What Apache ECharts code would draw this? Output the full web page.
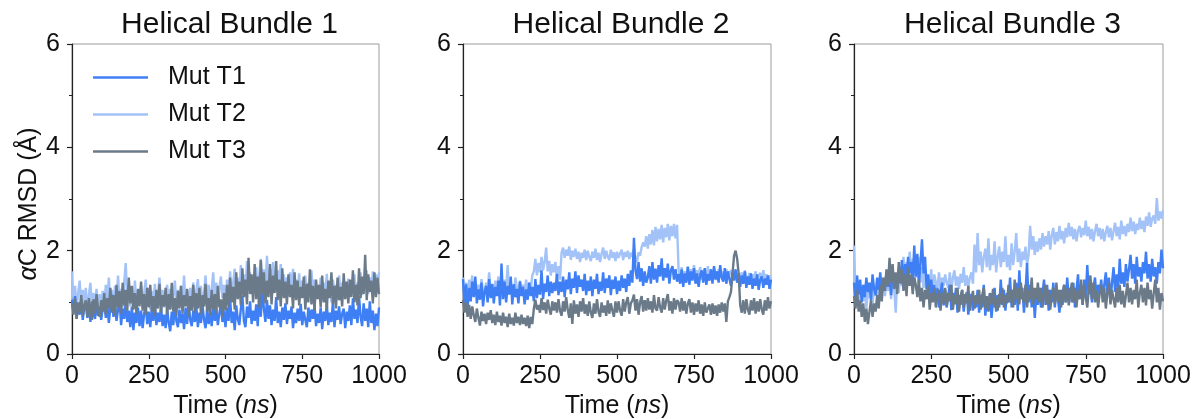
<!DOCTYPE html>
<html>
<head>
<meta charset="utf-8">
<script src="https://cdn.jsdelivr.net/npm/echarts@6/dist/echarts.min.js"></script>
<style>html,body{margin:0;padding:0;background:#fff}#c{width:1195px;height:419px}</style>
</head>
<body>
<div id="c"></div>
<script>
const time = [0,5,10,15,20,25,30,35,40,45,50,55,60,65,70,75,80,85,90,95,
100,105,110,115,120,125,130,135,140,145,150,155,160,165,170,175,180,185,190,195,
200,205,210,215,220,225,230,235,240,245,250,255,260,265,270,275,280,285,290,295,
300,305,310,315,320,325,330,335,340,345,350,355,360,365,370,375,380,385,390,395,
400,405,410,415,420,425,430,435,440,445,450,455,460,465,470,475,480,485,490,495,
500,505,510,515,520,525,530,535,540,545,550,555,560,565,570,575,580,585,590,595,
600,605,610,615,620,625,630,635,640,645,650,655,660,665,670,675,680,685,690,695,
700,705,710,715,720,725,730,735,740,745,750,755,760,765,770,775,780,785,790,795,
800,805,810,815,820,825,830,835,840,845,850,855,860,865,870,875,880,885,890,895,
900,905,910,915,920,925,930,935,940,945,950,955,960,965,970,975,980,985,990,995,1000];

const panelTitles = ['Helical Bundle 1','Helical Bundle 2','Helical Bundle 3'];
const seriesNames = ['Mut T1','Mut T2','Mut T3'];
const xTicks = [0,250,500,750,1000];
const yTicks = [0,2,4,6];

// Helical Bundle 1
const hb1_t1 = [1.05,0.80,1.12,0.68,0.98,0.76,1.05,0.66,0.90,1.00,0.70,0.95,0.62,1.02,0.78,0.68,0.98,0.74,0.92,0.66,
0.88,1.08,0.70,0.95,0.60,0.90,1.15,0.72,0.98,0.64,0.86,1.04,0.56,0.88,0.68,1.00,0.62,0.84,0.52,0.92,
0.46,0.80,0.60,0.90,0.54,0.84,0.50,0.78,0.95,0.58,0.82,0.52,0.88,0.64,0.98,0.56,0.80,0.62,0.92,0.54,
0.76,0.50,0.88,0.60,0.44,0.82,0.56,0.94,0.64,0.52,0.86,0.60,0.78,0.48,0.90,0.58,1.00,0.66,0.54,0.84,
0.62,0.92,0.52,0.80,0.60,0.96,0.66,0.50,0.86,0.58,0.82,0.54,0.94,0.64,0.88,0.56,0.78,0.98,0.62,0.84,
0.52,0.90,0.64,1.08,0.60,0.82,0.46,0.94,0.68,0.56,0.88,1.12,0.64,0.52,0.92,0.70,1.02,0.58,0.84,0.64,
0.96,0.54,1.18,0.72,1.28,0.88,0.62,1.05,0.68,0.94,0.56,0.86,0.64,1.10,0.60,0.82,0.52,0.90,0.66,0.98,
0.58,0.84,0.68,0.92,0.50,0.80,0.60,0.88,0.64,0.97,0.56,0.82,0.66,0.52,0.90,0.62,0.86,0.68,0.94,0.54,
0.78,0.60,0.90,0.48,0.82,0.64,0.96,0.56,0.80,0.62,1.02,0.52,0.84,0.66,0.92,0.58,0.78,0.88,0.50,0.82,
0.64,0.94,0.56,1.08,0.68,0.86,0.60,1.12,0.72,0.54,0.98,0.64,0.88,0.52,1.02,0.60,0.84,0.46,0.78,0.54,0.90];
const hb1_t2 = [1.60,1.00,1.32,0.86,1.18,1.42,0.90,1.24,0.96,1.28,0.84,1.14,1.38,0.88,1.18,0.98,1.26,0.86,1.16,0.96,
1.22,0.88,1.34,1.00,1.48,0.94,1.24,0.86,1.32,1.04,1.52,0.96,1.26,0.90,1.38,1.76,1.06,1.34,0.92,1.22,
1.00,1.42,0.88,1.24,0.98,1.34,0.90,1.18,1.44,0.96,1.28,0.86,1.22,1.00,1.36,0.92,1.16,1.48,0.96,1.24,
0.90,1.18,1.34,0.96,1.26,0.88,1.14,1.42,0.98,1.24,0.90,1.32,1.04,1.52,0.96,1.22,0.88,1.28,1.00,1.38,
0.96,1.24,1.45,1.00,1.32,0.92,1.18,1.52,1.04,1.34,0.98,1.26,1.58,1.06,1.38,0.96,1.28,1.50,1.08,1.34,
1.00,1.44,1.16,1.60,1.10,1.38,1.65,1.18,1.48,1.14,1.72,1.26,1.54,1.20,1.80,1.30,1.58,1.16,1.48,1.26,
1.68,1.20,1.54,1.84,1.30,1.64,1.24,1.90,1.38,1.66,1.26,1.78,1.40,1.20,1.62,1.34,1.74,1.18,1.54,1.28,
1.48,1.16,1.58,1.26,1.65,1.14,1.44,1.24,1.56,1.10,1.42,1.20,1.52,1.08,1.38,1.18,1.62,1.14,1.44,1.06,
1.34,1.16,1.48,1.04,1.38,1.20,1.55,1.10,1.36,1.00,1.44,1.18,1.34,1.08,1.52,1.16,1.38,1.06,1.32,1.14,
1.46,1.10,1.34,1.18,1.54,1.08,1.38,1.20,1.58,1.14,1.44,1.24,1.62,1.16,1.48,1.26,1.60,1.20,1.54,1.30,1.58];
const hb1_t3 = [0.98,0.76,1.08,0.68,1.00,0.80,1.14,0.74,0.95,1.04,0.72,1.08,0.84,0.66,1.06,0.78,1.16,0.86,0.72,1.04,
0.82,1.18,0.76,1.08,0.88,1.28,0.80,1.14,0.74,1.34,0.90,1.22,0.78,1.38,0.94,1.24,0.84,1.48,0.98,1.32,
0.86,1.18,0.78,1.26,0.92,1.40,0.84,1.16,0.76,1.28,0.90,1.34,0.82,1.12,0.74,1.24,0.88,1.36,0.80,1.14,
0.92,1.28,0.76,1.16,0.86,1.38,0.82,1.08,0.74,1.22,0.88,1.32,0.78,1.14,0.92,1.26,0.72,1.12,0.84,1.34,
0.80,1.18,0.88,1.28,0.76,1.14,0.92,1.36,0.82,1.08,0.74,1.24,0.86,1.16,0.78,1.32,0.90,1.06,0.72,1.18,
0.84,1.34,0.90,1.48,1.00,1.30,0.86,1.58,1.06,1.40,0.94,1.66,1.10,1.44,0.96,1.86,1.16,1.54,1.00,1.74,
1.06,1.50,0.90,1.82,1.16,1.58,0.98,1.42,1.10,1.74,0.96,1.52,1.18,1.80,1.04,1.44,0.92,1.66,1.08,1.40,
0.96,1.54,1.10,1.34,0.88,1.58,1.04,1.42,0.94,1.30,1.08,1.50,0.86,1.36,1.00,1.64,0.96,1.32,0.84,1.44,
1.06,1.34,0.90,1.52,1.00,1.26,0.86,1.42,1.08,1.58,0.96,1.32,0.88,1.48,1.04,1.30,0.92,1.56,1.06,1.40,
0.98,1.44,1.10,1.62,1.00,1.34,0.94,1.66,1.08,1.50,1.16,1.92,1.04,1.54,1.20,1.42,0.98,1.58,1.10,1.48,1.16];

// Helical Bundle 2
const hb2_t1 = [1.45,0.95,1.35,0.90,1.28,1.02,1.40,1.10,1.50,0.98,1.25,1.05,1.38,0.92,1.20,1.32,1.00,1.45,1.08,1.35,
0.98,1.30,1.12,1.42,0.94,1.75,1.06,1.40,1.00,1.32,1.15,1.50,0.96,1.35,1.10,1.26,0.98,1.40,1.12,1.30,
0.96,1.25,1.05,1.38,1.12,1.30,1.02,1.45,1.08,1.34,1.15,1.62,1.06,1.36,1.20,1.52,1.12,1.40,1.18,1.38,
1.22,1.55,1.14,1.40,1.20,1.50,1.10,1.44,1.25,1.58,1.16,1.46,1.28,1.60,1.18,1.52,1.30,1.44,1.22,1.55,
1.14,1.42,1.22,1.50,1.12,1.44,1.26,1.55,1.16,1.40,1.22,1.58,1.18,1.46,1.28,1.52,1.14,1.44,1.26,1.50,
1.16,1.42,1.22,1.52,1.28,1.46,1.20,1.55,1.32,1.62,1.38,2.25,1.62,1.45,1.78,1.40,1.66,1.32,1.60,1.38,
1.48,1.70,1.36,1.78,1.44,1.65,1.38,1.72,1.50,1.85,1.42,1.66,1.48,1.75,1.36,1.62,1.70,1.44,1.64,1.40,
1.55,1.36,1.64,1.30,1.56,1.38,1.68,1.34,1.60,1.42,1.66,1.36,1.56,1.30,1.52,1.62,1.38,1.66,1.34,1.55,
1.42,1.64,1.36,1.70,1.44,1.60,1.38,1.72,1.48,1.40,1.66,1.36,1.60,1.45,1.32,1.58,1.42,1.64,1.38,1.55,
1.30,1.52,1.36,1.60,1.28,1.50,1.34,1.56,1.26,1.46,1.32,1.54,1.24,1.44,1.50,1.28,1.46,1.34,1.52,1.26,1.44];
const hb2_t2 = [1.48,1.18,1.38,1.08,1.44,1.22,1.52,1.12,1.40,1.20,1.34,1.10,1.45,1.22,1.16,1.38,1.25,1.58,1.18,1.36,
1.12,1.42,1.22,1.50,1.15,1.35,1.20,1.44,1.25,1.72,1.18,1.40,1.22,1.12,1.48,1.28,1.20,1.42,1.15,1.34,
1.22,1.44,1.18,1.38,1.25,1.52,1.60,1.84,1.52,1.76,1.58,1.88,1.62,1.78,2.06,1.60,1.80,1.52,1.74,1.58,
1.78,1.48,1.70,1.44,1.96,2.06,1.86,2.02,1.90,2.08,1.82,2.00,1.88,2.04,1.84,1.98,1.78,1.96,1.86,2.02,
1.82,2.00,1.88,1.80,1.98,1.86,2.04,1.82,1.96,1.78,1.94,2.06,1.84,2.00,1.88,1.82,2.02,1.86,1.97,1.80,
1.98,1.86,1.94,2.02,1.82,1.97,1.88,2.00,1.84,1.96,1.88,2.04,1.86,1.78,1.97,1.90,2.07,2.16,2.08,2.28,
2.04,2.32,2.12,2.40,2.10,2.46,2.18,2.42,2.22,2.50,2.16,2.44,2.26,2.52,2.20,2.48,2.28,2.52,2.24,2.50,
1.62,1.52,1.68,1.46,1.60,1.48,1.70,1.44,1.64,1.50,1.72,1.46,1.62,1.52,1.68,1.44,1.60,1.64,1.48,1.70,
1.50,1.62,1.46,1.67,1.54,1.43,1.64,1.48,1.60,1.42,1.58,1.64,1.46,1.56,1.62,1.44,1.54,1.60,1.44,1.57,
1.46,1.58,1.40,1.62,1.48,1.43,1.57,1.38,1.54,1.44,1.60,1.40,1.52,1.57,1.42,1.62,1.46,1.54,1.43,1.52,1.40];
const hb2_t3 = [1.05,0.80,1.00,0.72,0.95,0.68,0.92,0.75,0.62,0.88,0.70,0.55,0.82,0.64,0.78,0.58,0.80,0.66,0.85,0.60,
0.76,0.56,0.82,0.62,0.74,0.55,0.80,0.60,0.72,0.52,0.78,0.58,0.70,0.55,0.80,0.60,0.72,0.56,0.76,0.58,
0.70,0.54,0.74,0.50,0.72,0.58,0.88,1.05,0.86,0.95,0.80,1.08,0.85,1.00,0.78,1.05,0.88,0.76,1.02,0.84,
1.00,0.80,1.06,0.84,0.74,1.02,0.82,1.10,0.86,0.70,0.98,0.58,1.04,0.78,0.96,0.72,1.02,0.82,1.08,0.78,
0.96,0.74,1.02,0.80,0.70,0.98,0.78,1.06,0.82,0.72,1.00,0.80,0.94,0.74,1.04,0.78,0.98,0.84,0.72,1.02,
0.80,1.02,0.84,0.74,1.06,0.82,1.00,1.10,0.78,0.98,1.04,1.15,0.84,1.06,0.76,1.00,1.12,0.82,1.04,0.84,
1.08,0.86,1.02,0.80,1.14,0.88,0.84,1.10,0.90,0.80,1.08,0.86,1.04,1.16,0.84,1.02,0.78,1.08,0.86,1.04,
1.00,0.82,1.08,0.84,1.02,0.78,0.98,1.06,0.80,1.00,0.76,0.98,0.82,1.04,0.78,0.96,0.74,1.00,0.80,0.78,
0.96,0.76,0.98,0.78,0.94,0.74,0.96,0.80,1.00,0.82,0.98,0.62,1.02,1.10,1.20,1.55,1.90,2.00,1.85,1.55,
0.95,0.80,1.04,0.78,1.06,0.86,0.76,1.04,0.84,1.08,0.78,1.02,0.82,1.06,0.86,0.76,1.04,0.84,1.10,0.88,1.02];

// Helical Bundle 3
const hb3_t1 = [1.38,1.05,1.52,1.15,1.44,1.00,1.34,1.10,1.48,1.20,1.38,1.04,1.54,1.26,1.14,1.48,1.24,1.58,1.18,1.44,
1.26,1.58,1.30,1.50,1.14,1.64,1.36,1.54,1.26,1.68,1.40,1.82,1.36,1.74,1.46,1.88,1.56,1.78,1.40,2.10,
1.50,1.94,1.36,1.74,2.22,1.56,1.88,1.26,1.54,1.16,1.44,1.06,1.34,1.00,1.28,0.90,1.18,1.38,0.94,1.24,
0.90,1.14,1.34,0.85,1.18,1.00,1.28,0.80,1.14,0.95,1.24,0.82,1.08,1.20,0.76,1.04,1.16,0.84,1.10,0.90,
1.24,0.80,1.14,0.90,1.34,0.74,1.08,0.84,1.18,0.70,1.04,1.28,0.82,1.14,0.90,1.44,0.95,1.24,0.84,1.18,
1.00,1.48,0.90,1.24,0.95,1.38,0.84,1.62,1.06,1.28,0.80,1.18,1.76,1.00,1.34,0.90,1.24,0.70,1.14,0.95,
1.28,0.90,1.18,1.44,0.95,1.34,0.84,1.24,1.00,1.38,0.90,1.28,1.06,0.80,1.24,0.95,1.34,1.00,1.48,1.10,
1.28,1.00,1.38,0.90,1.24,1.54,1.06,1.34,0.95,1.44,1.10,1.72,1.16,1.38,1.00,1.28,1.48,1.06,1.34,1.16,
1.44,1.10,1.34,1.58,1.16,1.48,1.00,1.38,1.68,1.20,1.54,1.26,1.84,1.36,1.58,1.30,1.74,1.40,1.64,1.92,
1.46,1.74,1.36,1.88,1.50,1.68,1.40,1.78,1.56,1.98,1.46,1.74,1.40,1.84,1.50,1.68,1.36,1.78,1.56,2.02,1.66];
const hb3_t2 = [2.10,1.18,0.98,1.32,0.92,1.18,1.02,1.28,0.88,1.22,1.08,1.38,0.98,1.28,1.12,1.42,1.02,1.32,1.18,1.48,
1.12,1.38,1.22,1.52,1.06,1.42,1.28,0.80,1.48,1.18,1.58,1.32,1.88,1.48,1.78,1.38,1.98,1.58,1.84,1.42,
1.74,1.48,1.88,1.38,1.68,1.28,1.58,1.22,1.48,1.32,1.64,1.18,1.54,1.38,1.28,1.58,1.22,1.48,1.32,1.54,
1.38,1.28,1.58,1.22,1.48,1.62,1.32,1.50,1.26,1.55,1.38,1.68,1.32,1.52,1.28,1.48,1.58,1.36,2.12,1.58,
2.34,1.72,1.98,1.58,1.88,2.04,1.68,2.24,1.62,1.92,1.72,2.18,1.58,1.88,2.08,1.68,1.98,1.78,2.28,1.68,
1.92,1.62,2.14,1.72,1.98,2.34,1.78,2.04,1.68,1.98,1.82,2.08,1.72,1.92,2.48,2.02,2.28,1.92,2.18,1.98,
2.24,2.02,2.34,2.08,2.28,2.12,2.38,2.02,2.30,2.44,2.12,2.36,2.18,2.48,2.22,2.38,2.14,2.44,2.26,2.54,
2.28,2.46,2.22,2.42,2.18,2.38,2.48,2.26,2.44,2.30,2.58,2.28,2.46,2.22,2.42,2.18,2.38,2.52,2.28,2.44,
2.22,2.42,2.18,2.36,2.48,2.26,2.44,2.20,2.38,2.54,2.28,2.46,2.22,2.58,2.32,2.48,2.28,2.52,2.36,2.64,
2.38,2.56,2.32,2.52,2.40,2.64,2.42,2.58,2.36,2.66,2.48,2.74,2.46,2.62,2.68,2.52,3.02,2.58,2.76,2.62,2.78];
const hb3_t3 = [1.12,0.88,1.24,0.82,1.04,0.72,0.98,0.62,0.88,0.58,0.82,1.04,0.72,0.98,0.82,1.14,0.88,1.34,1.02,1.48,
1.22,1.64,1.32,1.86,1.38,1.74,1.26,1.58,1.16,1.78,1.36,1.64,1.22,1.54,1.12,1.68,1.32,1.54,1.16,1.48,
1.34,1.10,1.44,1.02,1.28,0.90,1.24,1.06,1.34,0.86,1.18,1.00,1.28,0.90,1.14,1.24,0.84,1.18,0.98,1.28,
0.92,1.18,1.02,1.34,0.86,1.14,0.96,1.28,0.82,1.12,1.24,0.90,1.16,0.98,1.32,0.84,1.08,1.22,0.88,1.14,
0.96,1.24,0.86,1.14,1.28,0.88,1.12,0.82,1.18,0.96,1.26,0.90,1.08,0.84,1.16,0.96,1.28,0.90,1.14,0.98,
1.34,1.00,1.24,0.90,1.44,1.06,1.28,0.96,1.38,1.10,1.00,1.34,0.90,1.24,1.06,1.48,0.96,1.28,1.06,1.38,
1.00,1.28,0.90,1.18,1.34,0.96,1.24,0.86,1.14,1.28,0.96,1.38,1.00,1.24,0.90,1.18,1.34,1.00,1.28,0.94,
1.18,1.38,1.00,1.28,0.90,1.24,1.06,1.44,0.96,1.34,1.10,0.90,1.28,1.52,1.06,1.38,1.00,1.24,0.90,1.18,
1.34,1.00,1.28,0.88,1.18,1.38,0.96,1.24,1.06,0.90,1.28,1.00,1.34,0.96,1.22,0.90,1.14,1.38,1.00,1.28,
0.96,1.24,1.06,1.44,0.90,1.18,1.34,1.00,1.28,0.94,1.38,1.06,1.24,0.88,1.18,1.44,1.00,1.28,0.86,1.18,1.02];

const panels = [
  {t1: hb1_t1, t2: hb1_t2, t3: hb1_t3},
  {t1: hb2_t1, t2: hb2_t2, t3: hb2_t3},
  {t1: hb3_t1, t2: hb3_t2, t3: hb3_t3}
];
const colors = {t1: '#3f7ff6', t2: '#a3c3f8', t3: '#6b7a89'};
const FONT = 'Liberation Sans';
const gridLefts = [72, 463, 854];
const gridWidths = [307, 308, 309];
const TOP = 44, HEIGHT = 310;

const pairs = arr => time.map((t, i) => [t, arr[i]]);

const grid = [], xAxis = [], yAxis = [], series = [], title = [];
for (let p = 0; p < 3; p++) {
  grid.push({left: gridLefts[p], width: gridWidths[p], top: TOP, height: HEIGHT,
    outerBoundsMode: 'none', containLabel: false,
    show: true, borderColor: '#9a9a9a', borderWidth: 1, backgroundColor: 'transparent'});
  title.push({text: panelTitles[p], left: gridLefts[p] + gridWidths[p] / 2 - 1, top: 5, padding: 5, textAlign: 'center',
    textStyle: {fontFamily: FONT, fontSize: 30, fontWeight: 'normal', color: '#111'}});
  xAxis.push({type: 'value', gridIndex: p, min: xTicks[0], max: xTicks[xTicks.length - 1], interval: 250,
    axisLine: {show: true, onZero: false, lineStyle: {color: '#222', width: 1.2}},
    axisTick: {show: true, inside: false, length: 5, lineStyle: {color: '#222', width: 1.2}},
    axisLabel: {fontFamily: FONT, fontSize: 25, color: '#111', margin: 10, showMaxLabel: true, showMinLabel: true,
      formatter: v => String(v)},
    splitLine: {show: false},
    name: 'Time ({i|ns})', nameLocation: 'middle', nameGap: 38,
    nameTextStyle: {fontFamily: FONT, fontSize: 25, color: '#111',
      rich: {i: {fontFamily: FONT, fontSize: 25, fontStyle: 'italic', color: '#111'}}}});
  const y = {type: 'value', gridIndex: p, min: yTicks[0], max: yTicks[yTicks.length - 1], interval: 2,
    axisLine: {show: true, lineStyle: {color: '#222', width: 1.2}},
    axisTick: {show: true, inside: false, length: 5, lineStyle: {color: '#222', width: 1.2}},
    minorTick: {show: true, splitNumber: 2, length: 3, lineStyle: {color: '#222', width: 1}},
    axisLabel: {fontFamily: FONT, fontSize: 25, color: '#111', margin: 12, formatter: v => String(v)},
    splitLine: {show: false}};
  if (p === 0) {
    y.name = '{i|α}C RMSD (Å)';
    y.nameLocation = 'middle';
    y.nameGap = 30;
    y.nameTextStyle = {fontFamily: FONT, fontSize: 25, color: '#111', padding: [0, 10, 0, 0],
      rich: {i: {fontFamily: FONT, fontSize: 25, fontStyle: 'italic', color: '#111'}}};
  }
  yAxis.push(y);
  const d = panels[p];
  // draw order: T2, T1, T3 (T3 on top)
  [['Mut T2', d.t2, colors.t2], ['Mut T1', d.t1, colors.t1], ['Mut T3', d.t3, colors.t3]].forEach(([nm, arr, c]) => {
    series.push({type: 'line', name: nm, xAxisIndex: p, yAxisIndex: p, data: pairs(arr),
      showSymbol: false, symbol: 'none', color: c, lineStyle: {color: c, width: 2.4}, animation: false, silent: true});
  });
}

const chart = echarts.init(document.getElementById('c'), null, {renderer: 'canvas'});
chart.setOption({
  animation: false,
  backgroundColor: '#fff',
  title: title,
  legend: {data: seriesNames, orient: 'vertical', left: 93, top: 65, padding: 0, itemWidth: 55, itemHeight: 2.5, icon: 'rect',
    itemGap: 12, selectedMode: false,
    textStyle: {fontFamily: FONT, fontSize: 25, color: '#111', padding: [0, 0, 0, 15], lineHeight: 25}},
  grid: grid, xAxis: xAxis, yAxis: yAxis, series: series
});
</script>
</body>
</html>
